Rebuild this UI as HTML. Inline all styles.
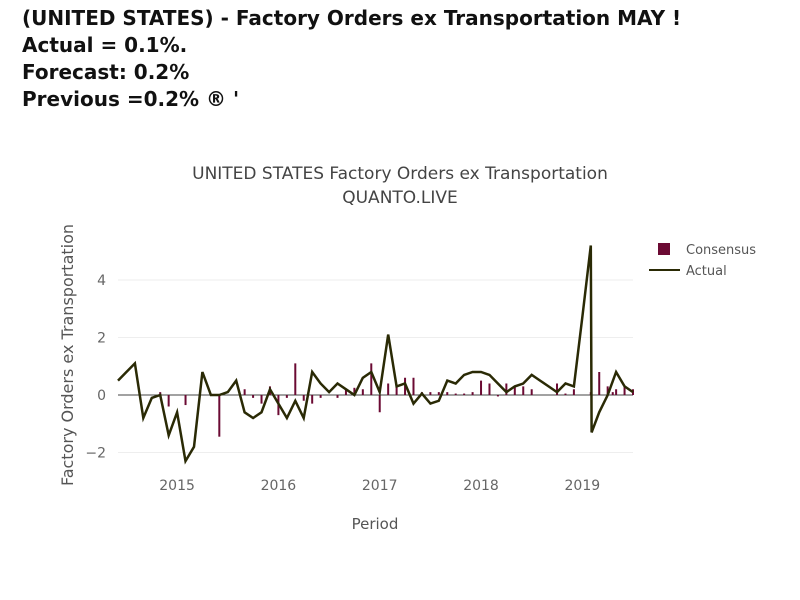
<!DOCTYPE html>
<html><head><meta charset="utf-8">
<style>
body{margin:0;background:#fff;width:800px;height:600px;overflow:hidden;font-family:"DejaVu Sans",sans-serif}
#hdr{position:absolute;left:22px;top:5px;font-weight:bold;font-size:20px;line-height:27px;color:#111;font-family:"DejaVu Sans",sans-serif}
svg{position:absolute;left:0;top:0;font-family:"DejaVu Sans",sans-serif}
</style></head><body>
<div id="hdr">(UNITED STATES) - Factory Orders ex Transportation MAY !<br>Actual = 0.1%.<br>Forecast: 0.2%<br>Previous =0.2% ® '</div>
<svg id="chart" width="800" height="600"></svg>
<script>
// month offsets from Jun 2014
const actualMonths=[0,1,2,3,4,5,6,7,8,9,10,11,12,13,14,15,16,17,18,19,20,21,22,23,24,25,26,27,28,29,30,31,32,33,34,35,36,37,38,39,40,41,42,43,44,45,46,47,48,49,50,51,52,53,54,55,56,56.1,57,58,59,60,61];
const actualValues=[0.5,0.8,1.1,-0.8,-0.1,0,-1.4,-0.6,-2.3,-1.8,0.8,0,0,0.1,0.5,-0.6,-0.8,-0.6,0.2,-0.3,-0.8,-0.2,-0.8,0.8,0.4,0.1,0.4,0.2,0,0.6,0.8,0.1,2.1,0.3,0.4,-0.3,0.05,-0.3,-0.2,0.5,0.4,0.7,0.8,0.8,0.7,0.4,0.1,0.3,0.4,0.7,0.5,0.3,0.1,0.4,0.3,2.7,5.2,-1.3,-0.6,0,0.8,0.3,0.1];
const consMonths=[5,6,8,12,15,16,17,18,19,20,21,22,23,24,26,27,28,29,30,31,32,33,34,35,36,37,38,39,40,41,42,43,44,45,46,47,48,49,52,53,54,56,57,58,58.6,59,60,61];
const consValues=[0.1,-0.4,-0.35,-1.45,0.2,-0.1,-0.3,0.3,-0.7,-0.1,1.1,-0.2,-0.3,-0.1,-0.1,0.2,0.25,0.2,1.1,-0.6,0.4,0.3,0.6,0.6,0.1,0.1,0.1,0.1,0.05,0.05,0.1,0.5,0.4,-0.05,0.4,0.3,0.3,0.2,0.4,0.05,0.2,0.1,0.8,0.3,0.1,0.2,0.3,0.2];
const yTicks=[-2,0,2,4];
const xTickLabels=["2015","2016","2017","2018","2019"];
const xTickMonths=[7,19,31,43,55];

const NS="http://www.w3.org/2000/svg";
const svg=document.getElementById('chart');
const X=m=>118+m*(515/61);
const Y=v=>395-v*28.75;
function mk(t,a,txt){const e=document.createElementNS(NS,t);for(const k in a)e.setAttribute(k,a[k]);if(txt!=null)e.textContent=txt;svg.appendChild(e);return e;}

yTicks.forEach(v=>{
  if(v!==0){const g=mk('line',{x1:118,x2:633,y1:Y(v),y2:Y(v),stroke:'#eee','stroke-width':1});
  
  }
  const t=mk('text',{x:106,y:Y(v)+5,'text-anchor':'end','font-size':14,fill:'#666'},v<0?'\u2212'+(-v):String(v));
  
  
});
xTickMonths.forEach((m,i)=>{
  const t=mk('text',{x:X(m),y:490,'text-anchor':'middle','font-size':14,fill:'#666'},xTickLabels[i]);
  
  
});
const z=mk('line',{x1:118,x2:633,y1:Y(0),y2:Y(0),stroke:'#444','stroke-width':1});



consMonths.forEach((m,i)=>{
  const v=consValues[i];
  const r=mk('rect',{x:X(m)-1,y:Math.min(Y(v),Y(0)),width:2,height:Math.abs(Y(v)-Y(0)),fill:'#6b0a33'});
  
  
});
const pts=actualMonths.map((m,i)=>X(m).toFixed(1)+','+Y(actualValues[i]).toFixed(1)).join(' ');
const pl=mk('polyline',{points:pts,fill:'none',stroke:'#2a2a05','stroke-width':2.5,'stroke-linejoin':'miter'});



const t1=mk('text',{x:400,y:179,'text-anchor':'middle','font-size':17,fill:'#444'},'UNITED STATES Factory Orders ex Transportation');


const t2=mk('text',{x:400,y:203,'text-anchor':'middle','font-size':17,fill:'#444'},'QUANTO.LIVE');


const yt=mk('text',{x:73,y:355,'text-anchor':'middle','font-size':16,fill:'#555',transform:'rotate(-90 73 355)'},'Factory Orders ex Transportation');


const xt=mk('text',{x:375,y:529,'text-anchor':'middle','font-size':15,fill:'#555'},'Period');



const ls=mk('rect',{x:658,y:243,width:12,height:12,fill:'#6b0a33'});


const lt=mk('text',{x:686,y:254,'font-size':13,fill:'#555'},'Consensus');


const ll=mk('line',{x1:649,x2:680,y1:270,y2:270,stroke:'#2a2a05','stroke-width':2});


const lt2=mk('text',{x:686,y:275,'font-size':13,fill:'#555'},'Actual');


</script>
</body></html>
